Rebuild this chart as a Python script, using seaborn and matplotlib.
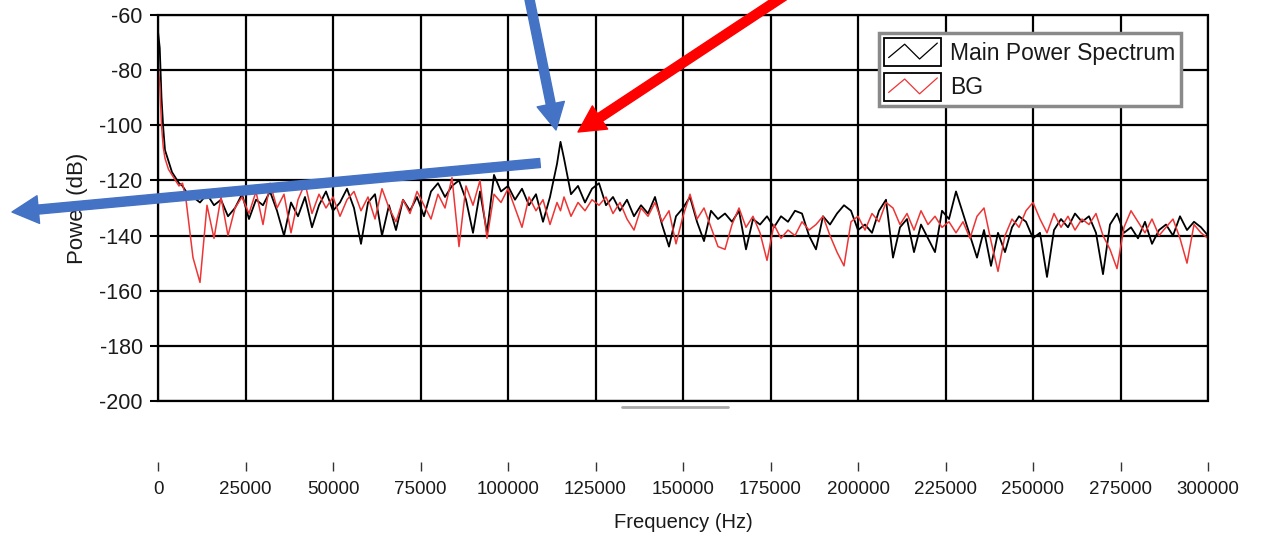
import matplotlib
matplotlib.use("Agg")
import matplotlib.pyplot as plt
import seaborn as sns
from matplotlib.patches import Rectangle, FancyArrowPatch
from matplotlib.lines import Line2D
from matplotlib.legend_handler import HandlerBase

# ---------------- data ----------------
freq_start = [0, 500, 1000, 1500, 2000, 3000, 4000, 5000, 6000, 7000]
freq_hz = (freq_start + list(range(8000, 114001, 2000)) + [115000]
           + list(range(116000, 300001, 2000)))

main_power_db = [
    -66, -72, -90, -101, -109, -113, -117, -119, -121, -122,
    # 8000 .. 114000
    -124, -126, -128, -125, -129, -127, -133, -130, -125, -134,
    -127, -129, -124, -131, -140, -128, -133, -126, -137, -129,
    -124, -131, -128, -123, -130, -143, -128, -125, -140, -129,
    -138, -127, -131, -126, -133, -124, -121, -126, -122, -120,
    -127, -139, -124, -139, -118, -124, -122, -127, -123, -129,
    -125, -135, -126, -114,
    # 115000
    -106,
    # 116000 .. 300000
    -112, -125, -122, -128, -123, -121, -129, -126, -131, -127,
    -133, -129, -132, -126, -136, -144, -133, -130, -126, -135,
    -142, -131, -134, -132, -135, -131, -145, -134, -136, -133,
    -137, -133, -135, -131, -132, -140, -145, -133, -136, -132,
    -129, -131, -138, -136, -139, -131, -127, -148, -137, -134,
    -146, -136, -141, -146, -131, -134, -124, -132, -140, -148,
    -138, -151, -139, -146, -137, -133, -135, -141, -139, -155,
    -138, -134, -137, -132, -135, -133, -139, -154, -136, -132,
    -139, -137, -141, -135, -143, -138, -136, -140, -133, -138,
    -135, -137, -140,
]

bg_power_db = [
    -78, -85, -100, -108, -112, -116, -118, -120, -122, -121,
    # 8000 .. 114000
    -127, -148, -157, -129, -141, -126, -140, -130, -126, -132,
    -124, -136, -121, -130, -125, -139, -127, -121, -132, -125,
    -130, -126, -133, -127, -124, -131, -126, -134, -123, -130,
    -135, -127, -132, -124, -129, -134, -125, -130, -119, -144,
    -122, -129, -120, -141, -125, -128, -123, -130, -137, -126,
    -131, -127, -136, -128,
    # 115000
    -131,
    # 116000 .. 300000
    -126, -133, -128, -131, -127, -129, -126, -132, -128, -134,
    -138, -130, -133, -128, -135, -131, -143, -133, -125, -134,
    -130, -137, -144, -145, -136, -130, -137, -133, -139, -149,
    -136, -141, -138, -140, -135, -138, -136, -133, -140, -146,
    -151, -135, -133, -138, -132, -135, -128, -130, -136, -132,
    -138, -131, -136, -133, -137, -135, -139, -135, -141, -133,
    -130, -142, -153, -140, -134, -137, -131, -128, -134, -139,
    -132, -137, -133, -138, -134, -136, -132, -140, -145, -152,
    -137, -131, -135, -139, -134, -140, -137, -134, -141, -150,
    -136, -139, -141,
]

series_labels = ["Main Power Spectrum", "BG"]
x_ticks = list(range(0, 300001, 25000))
y_ticks = list(range(-200, -59, 20))

# ---------------- style ----------------
sns.set_style("white")
plt.rcParams["font.family"] = ["Liberation Sans", "DejaVu Sans"]
plt.rcParams["axes.unicode_minus"] = False
plt.rcParams["text.color"] = "#1a1a1a"
plt.rcParams["xtick.labelcolor"] = "#1a1a1a"
plt.rcParams["ytick.labelcolor"] = "#1a1a1a"
plt.rcParams["axes.labelcolor"] = "#1a1a1a"

W, H = 1263, 537
fig = plt.figure(figsize=(W / 100, H / 100), dpi=100)
ax = fig.add_axes([158 / W, 1 - 401 / H, 1050 / W, 386 / H])

sns.lineplot(x=freq_hz, y=main_power_db, ax=ax, color="black", lw=1.3,
             label=series_labels[0], legend=False)
sns.lineplot(x=freq_hz, y=bg_power_db, ax=ax, color="#ee3535", lw=1.1,
             label=series_labels[1], legend=False)

for s in ["top", "right", "left"]:
    ax.spines[s].set_visible(False)
ax.spines["bottom"].set_position(("outward", 44))
ax.spines["bottom"].set_color("none")

ax.set_xlim(0, 300000)
ax.set_ylim(-200, -60)
ax.set_xticks(x_ticks)
ax.set_yticks(y_ticks)
ax.set_xticklabels([str(v) for v in x_ticks], fontsize=13.5)
ax.set_yticklabels([str(v) for v in y_ticks], fontsize=15.5)
ax.grid(True, color="black", lw=1.6)
ax.set_axisbelow(True)

ax.tick_params(axis="x", bottom=True, direction="out", length=6.5, width=1.0,
               color="#333333", pad=7)
ax.tick_params(axis="y", left=True, direction="out", length=6, width=1.5,
               color="black", pad=5)
ax.add_patch(Rectangle((0, 0), 1, 1, transform=ax.transAxes, fill=False,
                       ec="black", lw=1.6, zorder=5, clip_on=False))

ax.set_xlabel("Frequency (Hz)", fontsize=14.5, labelpad=11)
ax.set_ylabel("Power (dB)", fontsize=16, labelpad=8)

# ---------------- legend ----------------
class BoxZigzag(HandlerBase):
    def create_artists(self, legend, orig_handle, xdescent, ydescent,
                       width, height, fontsize, trans):
        x0, y0 = -xdescent, -ydescent
        rect = Rectangle((x0, y0), width, height, fill=False, ec="black",
                         lw=1.3, transform=trans)
        fx = [0.08, 0.36, 0.62, 0.93]
        fy = [0.30, 0.78, 0.25, 0.82]
        line = Line2D([x0 + width * f for f in fx], [y0 + height * f for f in fy],
                      color=orig_handle.get_color(), lw=0.9, transform=trans)
        return [rect, line]

handles = [Line2D([], [], color="black"), Line2D([], [], color="#ee3535")]
leg = ax.legend(handles, series_labels, handler_map={Line2D: BoxZigzag()},
                loc="upper left", bbox_to_anchor=(879 / W, 1 - 33 / H),
                bbox_transform=fig.transFigure, borderaxespad=0,
                fontsize=16.5, handlelength=2.5, handleheight=1.5,
                handletextpad=0.4, labelspacing=0.3, borderpad=0.22,
                fancybox=False, frameon=True, framealpha=1)
leg.get_frame().set_edgecolor("#8a8a8a")
leg.get_frame().set_linewidth(2.5)
leg.set_zorder(10)

# scrollbar-like grey segment under plot
fig.add_artist(Line2D([622 / W, 728 / W], [1 - 407 / H, 1 - 407 / H],
                      transform=fig.transFigure, color="#a8a8a8", lw=2))

# ---------------- arrows ----------------
def px(x, y):
    return (x / W, 1 - y / H)

def arrow(start, end, color):
    a = FancyArrowPatch(px(*start), px(*end), transform=fig.transFigure,
                        arrowstyle="simple,head_width=20,head_length=19,tail_width=6.5",
                        mutation_scale=1, color=color, shrinkA=0, shrinkB=0,
                        zorder=20)
    fig.add_artist(a)

arrow((528, -8), (556, 130), "#4472c4")
arrow((790, -8), (578, 132), "#ff0000")
arrow((540, 163), (12, 212), "#4472c4")

fig.savefig("out.png", dpi=100)
